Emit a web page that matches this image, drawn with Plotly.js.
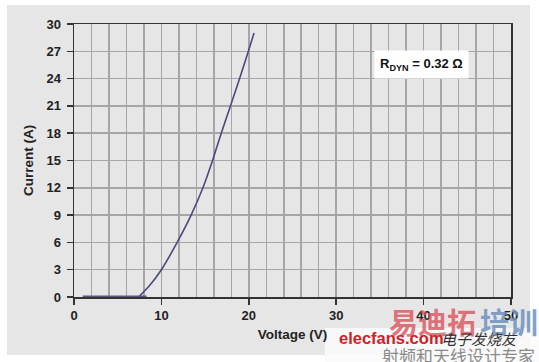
<!DOCTYPE html>
<html>
<head>
<meta charset="utf-8">
<script src="https://cdn.plot.ly/plotly-3.0.1.min.js"></script>
<style>html,body{margin:0;padding:0;background:#fff;}#chart{width:539px;height:362px;}</style>
</head>
<body>
<div id="chart"></div>
<script>
// Data
const flatVoltage = [1.0, 8.3];
const flatCurrent = [0, 0];
const curveVoltage = [7.4, 8.6, 10.0, 11.8, 13.4, 14.75, 15.85, 16.85, 17.9, 18.95, 19.95, 20.6];
const curveCurrent = [0, 1.2, 3.0, 6.0, 9.0, 12.0, 15.0, 18.0, 21.0, 24.0, 27.0, 29.0];
const xTicks = [0, 10, 20, 30, 40, 50];
const yTicks = [0, 3, 6, 9, 12, 15, 18, 21, 24, 27, 30];
const annotationText = 'R<sub>DYN</sub> = 0.32 Ω';

const lineColor = '#4a4a7c';
const boldFont = {family: 'Liberation Sans, Arial, sans-serif', size: 13, color: '#222', weight: 700};
const titleFont = {family: 'Liberation Sans, Arial, sans-serif', size: 13.5, color: '#222', weight: 700};

const traces = [
  {x: flatVoltage, y: flatCurrent, mode: 'lines', line: {color: '#58587f', width: 3}, hoverinfo: 'skip', cliponaxis: false},
  {x: curveVoltage, y: curveCurrent, mode: 'lines', line: {color: lineColor, width: 1.6, shape: 'spline', smoothing: 0.5}, hoverinfo: 'skip'}
];

const cjk = 'Noto Sans CJK SC, sans-serif';
const layout = {
  width: 539, height: 362,
  margin: {l: 74, r: 28, t: 24, b: 65},
  paper_bgcolor: '#ffffff',
  plot_bgcolor: '#ffffff',
  showlegend: false,
  xaxis: {
    range: [0, 50], tickvals: xTicks, ticktext: xTicks.map(String),
    showgrid: false, zeroline: false,
    showline: true, linecolor: '#333', linewidth: 1.5, mirror: true,
    ticks: 'outside', ticklen: 6, tickcolor: '#333', tickwidth: 1.5,
    tickfont: boldFont,
    minor: {dtick: 2, tick0: 0, showgrid: true, gridcolor: '#a6a6a6', gridwidth: 1.5, ticks: ''},
    title: {text: 'Voltage (V)', font: titleFont, standoff: 7}
  },
  yaxis: {
    range: [0, 30], tickvals: yTicks, ticktext: yTicks.map(String),
    showgrid: true, gridcolor: '#a6a6a6', gridwidth: 1.5, zeroline: false,
    showline: true, linecolor: '#333', linewidth: 1.5, mirror: true,
    ticks: 'outside', ticklen: 6, tickcolor: '#333', tickwidth: 1.5,
    ticklabelstandoff: 3,
    tickfont: boldFont,
    title: {text: 'Current (A)', font: titleFont, standoff: 9}
  },
  shapes: [
    {type: 'rect', xref: 'paper', yref: 'paper', x0: -0.1533, x1: 1.0435, y0: -0.2125, y1: 1.0696,
     fillcolor: '#e6e6e6', line: {width: 0}, layer: 'below'},
    {type: 'rect', xref: 'paper', yref: 'paper', x0: 0.574, x1: 1.064, y0: -0.238, y1: -0.1136,
     fillcolor: 'rgba(250,250,250,0.85)', line: {width: 0}, layer: 'below'}
  ],
  annotations: [
    {x: 39.8, y: 25.5, xref: 'x', yref: 'y', text: annotationText, showarrow: false,
     bgcolor: '#ffffff', borderpad: 5,
     font: {family: 'Liberation Sans, Arial, sans-serif', size: 13, color: '#111', weight: 700}},
    {x: 0.8215, y: -0.088, xref: 'paper', yref: 'paper', xanchor: 'center', yanchor: 'middle', text: '易迪拓', showarrow: false,
     font: {family: cjk, size: 29, color: 'rgba(220,80,90,0.8)', weight: 700}},
    {x: 0.995, y: -0.088, xref: 'paper', yref: 'paper', xanchor: 'center', yanchor: 'middle', text: '培训', showarrow: false,
     font: {family: cjk, size: 29, color: 'rgba(110,145,190,0.85)', weight: 700}},
    {x: 0.602, y: -0.152, xref: 'paper', yref: 'paper', xanchor: 'left', yanchor: 'middle', text: 'elecfans.com', showarrow: false,
     font: {family: 'Liberation Sans, Arial, sans-serif', size: 16.5, color: '#cc1f2a', weight: 700}},
    {x: 0.836, y: -0.152, xref: 'paper', yref: 'paper', xanchor: 'left', yanchor: 'middle', text: '<i>电子发烧友</i>', showarrow: false,
     font: {family: cjk, size: 15, color: '#333'}},
    {x: 0.7, y: -0.215, xref: 'paper', yref: 'paper', xanchor: 'left', yanchor: 'middle', text: '射频和天线设计专家', showarrow: false,
     font: {family: cjk, size: 17, color: '#8a8a8a'}}
  ]
};

Plotly.newPlot('chart', traces, layout, {displayModeBar: false, staticPlot: true});
</script>
</body>
</html>
